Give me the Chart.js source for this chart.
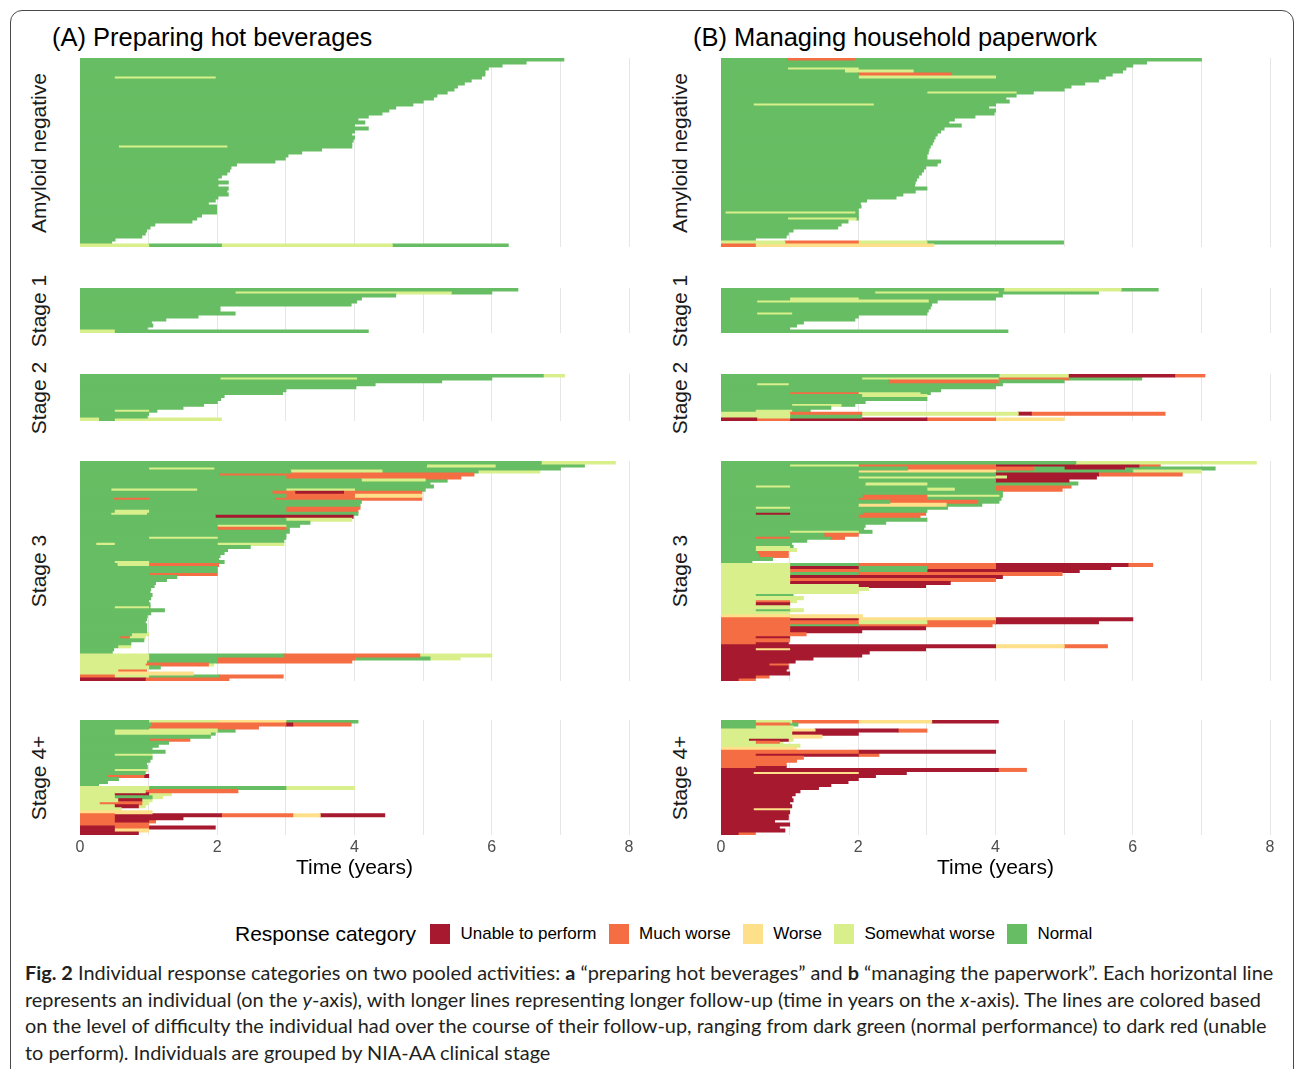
<!DOCTYPE html>
<html>
<head>
<meta charset="utf-8">
<script src="https://cdn.jsdelivr.net/npm/chart.js@4.4.0/dist/chart.umd.min.js"></script>
<style>
  body { margin: 0; background: #fff; font-family: "Liberation Sans", Arial, sans-serif; }
  #page { position: relative; width: 1295px; height: 1069px; overflow: hidden; }
  .frame { position: absolute; left: 10px; top: 10px; width: 1284px; height: 1090px;
           border: 1.5px solid #4a4a4a; border-radius: 12px; box-sizing: border-box; }
  .title { position: absolute; font-size: 25.5px; line-height: 1; color: #000; white-space: nowrap; }
  .strip { position: absolute; font-size: 21px; line-height: 1; color: #1a1a1a; white-space: nowrap;
           transform: translate(-50%, -50%) rotate(-90deg); }
  .legend { position: absolute; left: 235px; top: 922px; height: 24px; display: flex; align-items: center; white-space: nowrap; }
  .legend .ltitle { font-size: 21px; margin-right: 14px; }
  .legend .sw { width: 20px; height: 20px; margin-right: 10.5px; }
  .legend .lab { font-size: 17px; margin-right: 12px; }
  .caption { position: absolute; left: 25px; top: 959px; font-family: Lato, "Open Sans", sans-serif;
             font-size: 19.9px; line-height: 26.7px; color: #231f20; white-space: nowrap; }
</style>
</head>
<body>
<div id="page">
  <div class="frame"></div>
  <div class="legend" id="legend"></div>
  <div class="caption">
    <div><b>Fig. 2</b> Individual response categories on two pooled activities: <b>a</b> “preparing hot beverages” and <b>b</b> “managing the paperwork”. Each horizontal line</div>
    <div>represents an individual (on the <i>y</i>-axis), with longer lines representing longer follow-up (time in years on the <i>x</i>-axis). The lines are colored based</div>
    <div>on the level of difficulty the individual had over the course of their follow-up, ranging from dark green (normal performance) to dark red (unable</div>
    <div>to perform). Individuals are grouped by NIA-AA clinical stage</div>
  </div>
</div>
<script>
// response category codes
const U = 0, M = 1, W = 2, S = 3, N = 4;
const categories = ['Unable to perform', 'Much worse', 'Worse', 'Somewhat worse', 'Normal'];
const categoryColors = ['#a6192e', '#f46d43', '#fee08b', '#d9ef8b', '#66bd63'];
const stageLabels = ['Amyloid negative', 'Stage 1', 'Stage 2', 'Stage 3', 'Stage 4+'];
const panelTitles = ['(A) Preparing hot beverages', '(B) Managing household paperwork'];
const timeTicks = [0, 2, 4, 6, 8];

// each row = one individual: [category, end time, category, end time, ...] (years)
const hotAmyloidNeg = [
  [N,7.05],[N,6.5],[N,6.15],[N,5.95],[N,5.9],[N,5.9],
  [N,0.5,S,1.97,N,5.85],[N,5.7],[N,5.6],[N,5.5],[N,5.45],[N,5.35],
  [N,5.2],[N,5.15],[N,5.0],[N,4.85],[N,4.6],[N,4.5],
  [N,4.4],[N,4.2],[N,4.05],[N,4.15],[N,4.0],[N,4.2],
  [N,4.0],[N,3.96],[N,4.0],[N,3.98],[N,3.96],[N,0.56,S,2.14,N,3.96],
  [N,3.52],[N,3.23],[N,3.03],[N,2.99],[N,2.84],[N,2.28],
  [N,2.2],[N,2.18],[N,2.14],[N,2.06],[N,2.01],[N,2.16],
  [N,2.01],[N,2.16],[N,2.14],[N,2.16],[N,2.01],[N,1.97],
  [N,1.87],[N,1.99],[N,1.99],[N,1.99],[N,1.77],[N,1.7],
  [N,1.63],[N,1.09],[N,1.02],[N,0.97],[N,0.95],[N,0.9],
  [N,0.51],[N,0.46],[S,1.0,N,2.06,S,4.55,N,6.24]
];
const hotStage1 = [
  [N,6.38],[N,2.26,S,5.41,N,6.0],[N,4.6],[N,4.1],[N,4.03],
  [N,3.95],[N,2.04],[N,2.04],[N,2.26],[N,1.72],
  [N,1.25],[N,1.04],[N,1.06],[N,0.98],[S,0.5,N,4.2]
];
const hotStage2 = [
  [N,6.75,S,7.06],[N,2.04,S,4.03,N,6.0],[N,5.27],[N,4.3],[N,4.02],[N,3.0],
  [N,2.95],[N,2.1],[N,2.05],[N,2.0],[N,1.8],[N,1.5],
  [N,0.5,S,1.0,N,1.12],[N,1.0],[N,0.98],[S,0.27,N,0.5,S,2.06]
];
const hotStage3 = [
  [N,6.72,S,7.8],[N,5.05,S,6.05,N,7.35],[N,1.0,S,1.95,N,7.0],[N,3.07,S,4.4,N,5.8,S,6.7],
  [N,2.02,M,5.74],[N,3.0,M,5.55],[N,4.1,S,5.03,N,5.35],[N,5.1],[N,5.15],
  [N,0.45,S,1.7,N,3.0,S,4.0,N,5.03],[N,2.8,M,3.13,U,3.84,M,4.98],[N,3.0,M,4.0,W,4.98],
  [N,0.49,M,1.0,N,2.84,M,4.98],[N,4.1],[N,4.08],[N,3.0,M,4.08],[N,0.5,S,1.0,N,3.0,M,4.05],
  [N,0.45,S,0.97,N,4.05],[N,1.97,U,3.98],[N,3.0,S,3.96],[N,3.35],[N,2.0,S,3.0,N,3.2],
  [N,2.0,M,3.0,N,3.05],[N,3.05],[N,3.0],[N,1.0,S,2.0,N,3.0],[N,2.97],[N,0.23,S,0.5,N,2.0,S,2.97],
  [N,2.48],[N,2.15],[N,2.1],[N,2.04],[N,2.02],[N,0.5,S,1.0,N,2.1],[N,0.54,S,1.0,M,2.02],
  [N,2.0],[N,2.0],[N,1.0,M,2.0],[N,1.41],[N,1.26],[N,1.1],[N,1.08],[N,1.03],[N,1.02],
  [N,1.05],[N,1.03],[N,1.0],[N,1.02],[N,0.5,S,1.0,N,1.02],[N,1.23],[N,1.03],[N,0.98],
  [N,0.97],[N,0.95],[N,0.97],[N,0.97],[N,0.97],[N,0.75,S,1.0],[N,0.58,M,0.72,S,0.95],
  [N,0.93],[N,0.74],[N,0.55,S,0.74],[N,0.49],[N,0.47],
  [S,1.0,N,2.97,M,4.95,S,6.0],[S,1.0,N,2.0,M,4.0,N,5.1,S,5.54],[S,0.97,N,2.0,M,3.96],
  [S,0.95,M,1.87,S,1.95],[S,1.0,N,1.17],[S,0.55,M,0.97],
  [S,0.5,W,1.65],
  [M,0.5,S,1.0,N,2.02,M,2.96],
  [U,0.95,M,2.17]
];
const hotStage4 = [
  [N,1.0,S,2.0,W,3.0,N,4.05],[N,1.04,M,3.0,U,3.1,M,3.95],[N,1.0,M,2.6],[N,0.5,S,2.0,N,2.26],
  [N,0.5,S,1.9,N,1.97],[N,1.9],[N,1.0,M,1.6],[N,1.29],[N,1.14],[N,1.05],[N,1.24],
  [N,0.5,S,1.05],[N,1.05],[N,1.02],[N,0.97],[N,0.98],[N,0.5,S,0.98],[N,0.95],
  [N,0.4,M,0.93,U,1.0],[N,0.56],[N,0.4],[N,0.27],
  [S,1.0,N,3.0,S,4.0],[S,0.95,M,2.3],[S,0.5,U,1.0,S,1.33],[S,0.5,N,1.05,S,1.2],
  [S,0.55,U,0.9,S,1.05],[S,0.28,M,0.9,S,1.0],[S,0.5,U,0.85,S,0.95],[S,0.6],
  [W,1.05],
  [M,0.5,U,2.06,M,3.1,W,3.5,U,4.44],[M,0.5,U,1.5],[M,0.5,U,1.0,M,1.1],[M,1.0],
  [U,0.5,M,1.0,U,1.97],[U,0.5,W,1.0],[U,0.85]
];

const paperAmyloidNeg = [
  [N,0.96,M,1.95,N,7.0],[N,6.2],[N,6.0],[N,0.97,S,2.0,N,5.9],[N,1.8,S,2.8,N,5.85],
  [N,2.0,M,3.36,N,5.7],[N,2.0,S,4.0,N,5.6],[N,5.5],[N,5.3],[N,5.1],[N,5.0],
  [N,3.0,S,4.3,N,4.55],[N,4.3],[N,4.15],[N,4.2],[N,0.47,S,2.22,N,4.0],[N,3.9],
  [N,4.0],[N,3.98],[N,3.7],[N,3.4],[N,3.32],[N,3.5],[N,3.25],[N,3.2],[N,3.15],
  [N,3.12],[N,3.1],[N,3.08],[N,3.05],[N,3.03],[N,3.02],[N,3.0],[N,3.0],[N,3.2],
  [N,3.15],[N,2.98],[N,2.95],[N,2.92],[N,2.88],[N,2.85],[N,2.83],[N,2.82],[N,3.0],
  [N,2.83],[N,2.65],[N,2.55],[N,2.12],[N,2.03],[N,2.04],[N,2.0],[N,0.06,S,1.95,N,2.0],
  [N,2.0],[N,0.97,S,1.97,N,2.0],[N,1.85],[N,1.75],[N,1.7],[N,1.05],[N,0.98],[N,0.95],
  [N,0.5],[S,0.93,M,2.0,S,3.0,N,4.99],[M,0.5,W,3.1]
];
const paperStage1 = [
  [N,4.12,S,5.83,N,6.37],[N,2.24,S,4.04,N,5.5],[N,4.1],[N,1.0,S,2.0,N,4.0],
  [N,0.52,S,3.02,N,3.15],[N,3.07],[N,3.05],[N,3.02],[N,0.52,S,1.03,N,3.0],
  [N,2.0],[N,1.95],[N,1.2],[N,1.1],[N,1.0],[N,4.18]
];
const paperStage2 = [
  [N,4.05,S,5.06,U,6.61,M,7.05],[N,2.05,S,4.04,M,5.06,N,6.13],[N,2.44,M,4.04,N,5.0],
  [N,0.52,S,0.98,N,4.1],[N,4.0],[N,3.2],[N,1.0,M,2.0,S,2.9,N,3.05],[N,2.05,S,3.0],
  [N,3.0],[N,2.1],[N,1.03,S,1.75,N,1.95],[N,1.6],[N,0.5,S,1.03,N,1.3],
  [S,1.0,M,2.05,S,4.33,U,4.52,M,6.47],[S,1.0,N,2.05],[U,0.52,M,1.0,U,3.0,M,4.0,W,5.0]
];
const paperStage3 = [
  [N,5.17,S,7.8],[N,1.0,S,2.0,M,4.0,U,6.09,M,6.4],[N,2.72,M,4.56,N,5.0,U,5.88,N,7.2],
  [N,2.0,W,4.0,N,6.0,S,7.0],[N,4.0,U,5.5,M,6.72],[N,2.0,S,4.16,U,5.47],[N,4.0,U,5.07],
  [N,2.1,S,3.0,N,5.2],[N,0.5,S,1.0,N,4.0,M,5.1],[N,3.0,S,3.4,N,4.0,M,4.97],[N,4.1],
  [N,2.06,M,3.0,S,4.05,N,4.1],[N,2.0,M,3.0,N,4.08],[N,2.46,M,3.74,N,4.05],[N,2.0,W,3.28,N,3.8],
  [N,0.5,S,1.0,N,3.3],[N,3.0],[N,0.5,U,1.0,N,2.06,M,2.98],[N,2.0,M,2.9],[N,3.0],[N,2.4],
  [N,2.1],[N,2.08],[N,1.0,S,2.0,N,2.2],[N,1.5,M,2.0],[N,0.5,M,1.0,N,1.6,M,1.8],[N,1.25],
  [N,1.03],[N,0.5,S,1.0,N,1.05],[N,0.5,S,1.1],[N,0.52,M,0.98],[N,0.55,M,0.98],[N,0.75],[N,0.45],
  [S,1.0,N,2.0,M,4.0,U,5.93,M,6.29],[S,1.0,U,2.0,N,3.0,M,4.0,U,5.68],[S,1.0,M,2.0,N,3.0,U,5.22],
  [S,1.0,N,2.0,M,4.97],[S,1.0,U,4.1],[S,1.0,M,4.0],[S,1.0,U,3.34],[S,2.0,U,2.98],[S,2.15],
  [S,2.0],[S,0.5,N,1.05],[S,1.2],[S,0.5,M,1.0,S,1.1],[S,0.5,U,1.0],[S,1.0],[S,0.5,N,1.0,S,1.2],[S,1.0],
  [W,2.06],
  [M,1.0,U,2.0,W,4.0,U,6.0],[M,2.0,S,3.0,M,4.0,U,5.5],[M,1.0,N,2.0,M,3.95],[M,1.0,U,2.98],
  [M,1.0,U,2.05],[M,1.24],[M,0.5,U,1.0],[M,1.0],[M,0.5,U,0.98],
  [U,4.0,W,5.0,M,5.63],[U,0.5,W,1.0,U,2.98],[U,2.16],[U,2.05],[U,1.34],[U,1.08],
  [U,0.7,M,0.98],[U,0.98],[U,0.95],[U,1.0],[U,0.5,M,0.7],[U,0.25,M,0.5]
];
const paperStage4 = [
  [N,0.5,S,1.03,M,2.0,W,3.07,U,4.04],[N,0.5,M,1.0,N,1.12],[N,0.5,S,1.05],
  [S,1.03,W,1.37,U,2.58,M,3.0],[S,1.03,U,2.0],[S,1.03,W,1.47],[S,0.4,U,0.98,S,1.05],
  [S,0.5,M,0.85,S,0.9],[S,1.15],
  [W,1.1],
  [M,2.0,U,4.0],[M,0.5,U,2.0,M,2.3],[M,1.2],[M,1.1],[M,0.95],[M,0.5,U,0.95],
  [U,4.04,M,4.45],[U,0.47,W,2.0,U,2.7],[U,2.25],[U,2.0],[U,1.85],[U,1.6],[U,1.42],
  [U,1.15],[U,1.08],[U,1.03],[U,1.05],[U,1.0],[U,1.03],[U,0.47,W,1.0],[U,1.0],
  [U,0.98],[U,0.98],[U,0.78],[U,1.0],[U,0.85],[U,0.93],[U,0.25,M,0.5]
];

// layout (pixels)
const page = document.getElementById('page');
const plotWidth = 549;
const panelLefts = [80, 721];
const titleLefts = [52, 693];
const facetTops = [58, 288, 374, 461, 720];
const facetHeights = [189, 45, 47, 220, 115];
const panelFacets = [
  [hotAmyloidNeg, hotStage1, hotStage2, hotStage3, hotStage4],
  [paperAmyloidNeg, paperStage1, paperStage2, paperStage3, paperStage4]
];

Chart.defaults.font.family = '"Liberation Sans", Arial, sans-serif';

function drawFacet(rows, left, top, height, isBottom) {
  const pad = 14;
  const axisH = isBottom ? 46 : 0;
  const canvas = document.createElement('canvas');
  canvas.width = plotWidth + 2 * pad;
  canvas.height = height + axisH;
  canvas.style.position = 'absolute';
  canvas.style.left = (left - pad) + 'px';
  canvas.style.top = top + 'px';
  page.appendChild(canvas);

  const depth = Math.max(...rows.map(r => r.length / 2));
  const datasets = [];
  for (let k = 0; k < depth; k++) {
    datasets.push({
      data: rows.map(r => 2 * k < r.length ? [k ? r[2 * k - 1] : 0, r[2 * k + 1]] : null),
      backgroundColor: rows.map(r => 2 * k < r.length ? categoryColors[r[2 * k]] : 'rgba(0,0,0,0)'),
      borderWidth: 0,
      barPercentage: 1,
      categoryPercentage: 1,
      grouped: false,
      inflateAmount: 0.5
    });
  }

  new Chart(canvas, {
    type: 'bar',
    data: { labels: rows.map((r, i) => 'id' + (i + 1)), datasets },
    options: {
      indexAxis: 'y',
      responsive: false,
      animation: false,
      events: [],
      layout: { padding: { left: pad, right: pad, top: 0, bottom: 0 } },
      plugins: { legend: { display: false }, tooltip: { enabled: false } },
      scales: {
        x: {
          type: 'linear', min: 0, max: 8,
          border: { display: false },
          grid: { color: '#e6e6e6', lineWidth: 1, drawTicks: false },
          ticks: {
            display: isBottom, stepSize: 1, autoSkip: false, maxRotation: 0, padding: 3,
            color: '#4d4d4d', font: { size: 16 },
            callback: v => timeTicks.includes(v) ? String(v) : ''
          },
          title: {
            display: isBottom, text: 'Time (years)', color: '#000',
            font: { size: 21, lineHeight: 1 }, padding: { top: 0, bottom: 2 }
          },
          afterFit: s => { s.height = axisH; }
        },
        y: { type: 'category', display: false, offset: true }
      }
    }
  });
}

panelFacets.forEach((facets, p) => {
  const t = document.createElement('div');
  t.className = 'title';
  t.textContent = panelTitles[p];
  t.style.left = titleLefts[p] + 'px';
  t.style.top = '25px';
  page.appendChild(t);

  facets.forEach((rows, f) => {
    drawFacet(rows, panelLefts[p], facetTops[f], facetHeights[f], f === facets.length - 1);
    const s = document.createElement('div');
    s.className = 'strip';
    s.textContent = stageLabels[f];
    s.style.left = (panelLefts[p] - 42) + 'px';
    s.style.top = (facetTops[f] + facetHeights[f] / 2) + 'px';
    page.appendChild(s);
  });
});

// legend
const legend = document.getElementById('legend');
legend.innerHTML = '<span class="ltitle">Response category</span>' +
  categories.map((c, i) =>
    '<span class="sw" style="background:' + categoryColors[i] + '"></span><span class="lab">' + c + '</span>'
  ).join('');
</script>
</body>
</html>
